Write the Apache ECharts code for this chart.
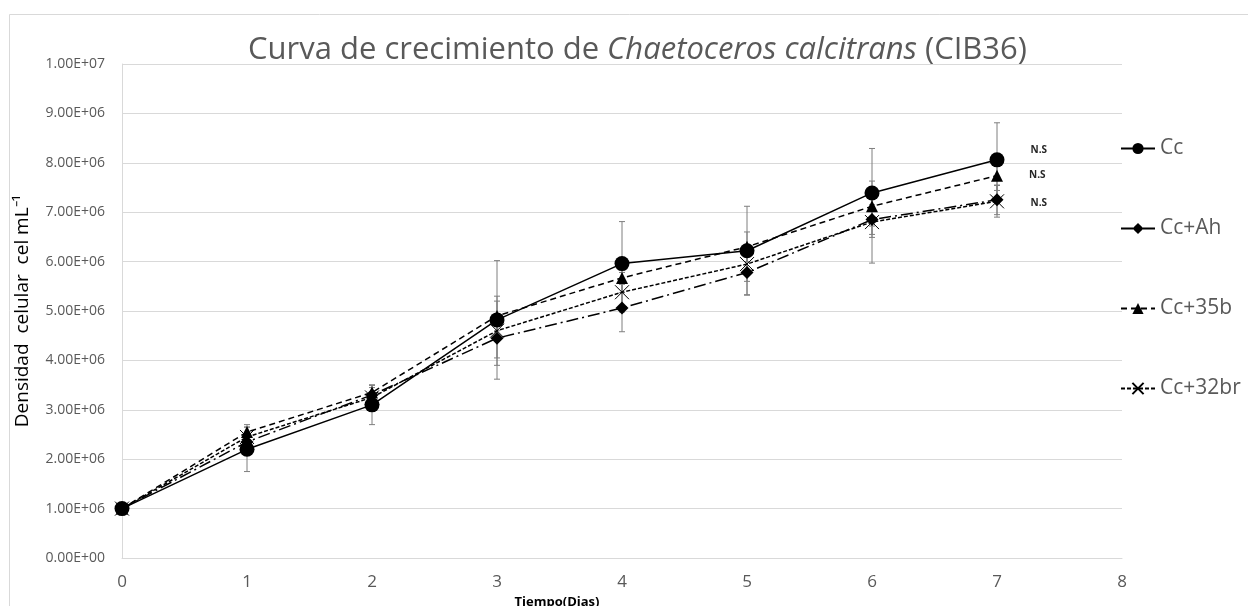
<!DOCTYPE html>
<html>
<head>
<meta charset="utf-8">
<script src="https://cdn.jsdelivr.net/npm/echarts@6/dist/echarts.min.js"></script>
<style>html,body{margin:0;padding:0;background:#fff}#c{width:1248px;height:606px}</style>
</head>
<body>
<div id="c"></div>
<script>
const days = [0, 1, 2, 3, 4, 5, 6, 7];
const seriesNames = ['Cc', 'Cc+Ah', 'Cc+35b', 'Cc+32br'];
const cc     = [1.0e6, 2.2e6, 3.1e6, 4.82e6, 5.96e6, 6.22e6, 7.39e6, 8.06e6];
const ccAh   = [1.0e6, 2.35e6, 3.3e6, 4.45e6, 5.06e6, 5.78e6, 6.85e6, 7.25e6];
const cc35b  = [1.0e6, 2.55e6, 3.35e6, 4.9e6, 5.67e6, 6.3e6, 7.12e6, 7.74e6];
const cc32br = [1.0e6, 2.45e6, 3.25e6, 4.6e6, 5.38e6, 5.95e6, 6.8e6, 7.22e6];
const errCc     = [0, 0.45e6, 0.4e6, 1.2e6, 0.85e6, 0.9e6, 0.9e6, 0.75e6];
const errCcAh   = [0, 0.2e6, 0.2e6, 0.4e6, 0.48e6, 0.45e6, 0.3e6, 0.3e6];
const errCc35b  = [0, 0.15e6, 0.15e6, 0.3e6, 0.3e6, 0.3e6, 0.4e6, 0.3e6];
const errCc32br = [0, 0.2e6, 0.2e6, 0.7e6, 0.4e6, 0.35e6, 0.83e6, 0.32e6];
const sigLabels = ['N.S', null, 'N.S', 'N.S'];

const FONT = 'Open Sans';
const chart = echarts.init(document.getElementById('c'), null, {renderer: 'canvas'});

const values = [cc, ccAh, cc35b, cc32br];
const errs = [errCc, errCcAh, errCc35b, errCc32br];
const styles = [
  {symbol: 'circle', size: 15, type: 'solid'},
  {symbol: 'diamond', size: 13, type: [12, 4, 2, 4]},
  {symbol: 'triangle', size: 12, type: [6, 4]},
  {symbol: 'path://M0,0L10,10M10,0L0,10', size: 14, type: [4, 2]}
];
const labelOffsets = [[21, -10], null, [21, 0], [21, 2]];

function fmt(v) {
  return v.toExponential(2).toUpperCase().replace(/E([+-])(\d)$/, 'E$10$2');
}

const errSeries = values.map((vals, si) => ({
  type: 'custom',
  name: seriesNames[si] + ' err',
  z: 1,
  silent: true,
  renderItem: function (params, api) {
    const x = api.value(0), lo = api.value(1), hi = api.value(2);
    const top = api.coord([x, hi]);
    const bot = api.coord([x, lo]);
    const cap = 3;
    const st = {stroke: '#7f7f7f', lineWidth: 1};
    return {type: 'group', children: [
      {type: 'line', shape: {x1: top[0], y1: top[1], x2: bot[0], y2: bot[1]}, style: st},
      {type: 'line', shape: {x1: top[0] - cap, y1: top[1], x2: top[0] + cap, y2: top[1]}, style: st},
      {type: 'line', shape: {x1: bot[0] - cap, y1: bot[1], x2: bot[0] + cap, y2: bot[1]}, style: st}
    ]};
  },
  data: days.map((d, i) => [d, vals[i] - errs[si][i], vals[i] + errs[si][i]])
}));

const lineSeries = values.map((vals, si) => ({
  type: 'line',
  name: seriesNames[si],
  z: 3,
  symbol: styles[si].symbol,
  symbolSize: styles[si].size,
  showAllSymbol: true,
  lineStyle: {color: '#000', width: 1.5, type: styles[si].type},
  itemStyle: si === 3 ? {color: '#fff', borderColor: '#000', borderWidth: 1} : {color: '#000'},
  data: days.map((d, i) => {
    const item = {value: [d, vals[i]]};
    if (i === days.length - 1 && sigLabels[si]) {
      item.label = {show: true, position: 'right', formatter: sigLabels[si], offset: labelOffsets[si],
        fontFamily: FONT, fontSize: 10, fontWeight: 'bold', color: '#262626'};
    }
    return item;
  })
}));

chart.setOption({
  animation: false,
  backgroundColor: '#fff',
  title: {
    text: '{n|Curva de crecimiento de }{i|Chaetoceros calcitrans}{n| (CIB36)}',
    left: 243,
    top: 30,
    textStyle: {
      fontWeight: 'normal',
      rich: {
        n: {fontFamily: FONT, fontSize: 31, color: '#595959', fontWeight: 'normal'},
        i: {fontFamily: FONT, fontSize: 31, color: '#595959', fontStyle: 'italic', fontWeight: 'normal'}
      }
    }
  },
  graphic: [{
    type: 'rect', silent: true, z: -1,
    shape: {x: 9.5, y: 14.5, width: 1260, height: 620},
    style: {fill: 'none', stroke: '#d9d9d9', lineWidth: 1}
  }],
  legend: {
    orient: 'vertical',
    left: 1115,
    top: 133,
    itemWidth: 34,
    itemHeight: 14,
    itemGap: 59,
    data: seriesNames,
    textStyle: {fontFamily: FONT, fontSize: 21, color: '#595959', lineHeight: 20}
  },
  grid: {left: 122, right: 126, top: 64, bottom: 48, containLabel: false, outerBoundsMode: 'none'},
  xAxis: {
    type: 'value', min: 0, max: 8, interval: 1,
    name: 'Tiempo(Dias)', nameLocation: 'middle', nameGap: 37,
    nameTextStyle: {fontFamily: FONT, fontSize: 13, fontWeight: 'bold', color: '#000', padding: [0, 130, 0, 0]},
    axisLine: {show: true, lineStyle: {color: '#d9d9d9', width: 1}},
    axisTick: {show: false},
    splitLine: {show: false},
    axisLabel: {fontFamily: FONT, fontSize: 17, color: '#595959', margin: 16}
  },
  yAxis: {
    type: 'value', min: 0, max: 1e7, interval: 1e6,
    name: 'Densidad  celular  cel mL⁻¹', nameLocation: 'middle', nameGap: 90, nameRotate: 90,
    nameTextStyle: {fontFamily: FONT, fontSize: 19, color: '#000'},
    axisLine: {show: true, lineStyle: {color: '#d9d9d9', width: 1}},
    axisTick: {show: false},
    splitLine: {show: true, lineStyle: {color: '#d9d9d9', width: 1}},
    axisLabel: {fontFamily: FONT, fontSize: 14, color: '#595959', margin: 17, formatter: fmt}
  },
  series: errSeries.concat(lineSeries)
});
</script>
</body>
</html>
